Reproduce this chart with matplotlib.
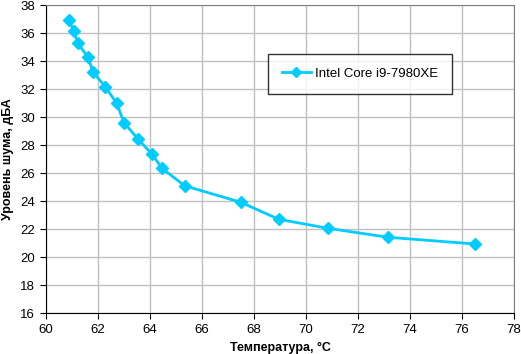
import matplotlib
matplotlib.use("Agg")
import matplotlib.pyplot as plt

temps = [60.88, 61.07, 61.23, 61.62, 61.81, 62.28, 62.72, 63.0, 63.54, 64.08, 64.46, 65.33,
         67.49, 68.96, 70.85, 73.15, 76.49]
noise = [36.93, 36.16, 35.26, 34.26, 33.21, 32.16, 30.98, 29.59, 28.43, 27.34, 26.34, 25.09,
         23.91, 22.69, 22.05, 21.41, 20.93]
series_name = "Intel Core i9-7980XE"
xticks = list(range(60, 80, 2))
yticks = list(range(16, 40, 2))

plt.rcParams['font.family'] = ['Liberation Sans', 'DejaVu Sans']
fig = plt.figure(figsize=(5.21, 3.54), dpi=100)
W, H = 521, 354
ax = fig.add_axes([46 / W, 1 - 313 / H, (514 - 46) / W, (313 - 5) / H])
color = '#00CCFF'
ax.plot(temps, noise, color=color, lw=2, marker='D', ms=6.5, mec=color, mfc=color,
        label=series_name, zorder=3)
ax.set_xlim(60, 78)
ax.set_ylim(16, 38)
ax.set_xticks(xticks)
ax.set_yticks(yticks)
ax.grid(True, color='#C0C0C0', lw=1)
ax.set_axisbelow(True)
for s in ['top', 'right']:
    ax.spines[s].set_color('#808080')
for s in ['left', 'bottom']:
    ax.spines[s].set_color('black')
ax.tick_params(axis='both', direction='out', length=4, labelsize=9.5, color='black', pad=4)
ax.tick_params(top=False, right=False)
ax.set_xlabel('Температура, °С', fontsize=9, fontweight='bold', labelpad=4)
ax.set_ylabel('Уровень шума, дБА', fontsize=9, fontweight='bold', labelpad=4)
leg = ax.legend(loc='upper left', bbox_to_anchor=((268 - 46) / 468, 1 - (54 - 5) / 308),
                borderaxespad=0, frameon=True, fancybox=False, edgecolor='black', fontsize=9.5,
                handlelength=2.2, handletextpad=0.3, borderpad=1.05, markerscale=0.8)
leg.get_frame().set_linewidth(1)
fig.savefig('out.png', dpi=100)
